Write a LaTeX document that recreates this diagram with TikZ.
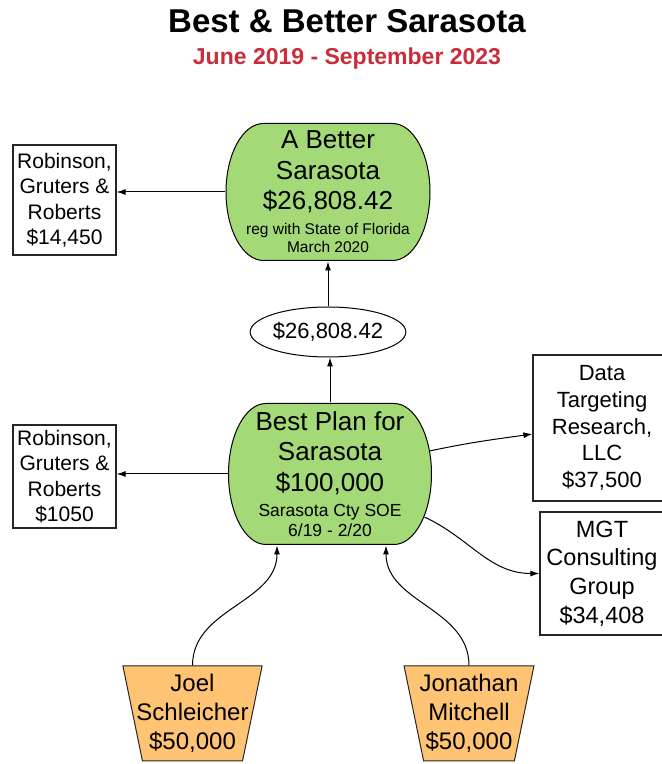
\documentclass[tikz,border=0pt]{standalone}
\usepackage{fontspec}
\setmainfont{Liberation Sans}
\usepackage{xcolor}
\usetikzlibrary{calc,shapes.geometric,arrows.meta}

\definecolor{fundgreen}{HTML}{A3D977}
\definecolor{donororange}{HTML}{FFC374}
\definecolor{titlered}{HTML}{C92D39}

\newcommand{\bigtxt}{\fontsize{26}{30.5}\selectfont}
\newcommand{\smalltxt}{\fontsize{15.5}{18}\selectfont}

\begin{document}
\begin{tikzpicture}[x=1pt, y=1pt,
        >={Latex[length=9pt,width=6pt]},
        fund/.style={rectangle, inner sep=0pt, align=center, font=\bigtxt,
            path picture={\draw[line width=1pt, fill=fundgreen]
                let \p1=(path picture bounding box.north west),
                    \p2=(path picture bounding box.south east),
                    \n1={(\y1-\y2)/2-0.5pt} in
                (\x1+38pt,\y1-0.5pt) -- (\x2-38pt,\y1-0.5pt)
                arc[start angle=90, end angle=-90, x radius=37.5pt, y radius=\n1]
                -- (\x1+38pt,\y2+0.5pt)
                arc[start angle=270, end angle=90, x radius=37.5pt, y radius=\n1] -- cycle;}},
        payee/.style={rectangle, draw=black!85, line width=1.2pt, align=center, inner sep=0pt,
            font=\fontsize{21}{25.5}\selectfont},
        vendor/.style={payee, font=\fontsize{22}{26.8}\selectfont},
        donor/.style={trapezium, trapezium angle=76, shape border rotate=180, trapezium stretches body,
            minimum height=95pt, inner xsep=-6pt, inner ysep=0pt, draw=black!85, line width=1pt,
            fill=donororange, align=center, font=\fontsize{24}{29}\selectfont},
        amount/.style={ellipse, draw, line width=1pt, inner sep=0pt, minimum width=130pt,
            minimum height=50pt, font=\fontsize{22}{26}\selectfont},
        line width=1pt
        ]
        \useasboundingbox (0,0) rectangle (662,764);

        \node (title) at (347,731) [anchor=base, font=\fontsize{33}{38}\selectfont\bfseries] {Best \& Better Sarasota};
        \node (dates) at (347,699) [anchor=base, text=titlered, font=\fontsize{23}{27}\selectfont\bfseries] {June 2019 - September 2023};

        % committees
        \node (abs) at (328,572) [fund, minimum width=205pt, minimum height=138pt]
            {A Better\\Sarasota\\\$26,808.42\\[-6pt]\smalltxt reg with State of Florida\\[-12pt]\smalltxt March 2020};
        \node (best) at (330,290) [fund, minimum width=204pt, minimum height=142pt]
            {Best Plan for\\Sarasota\\\$100,000\\[-5pt]\fontsize{17.5}{20}\selectfont Sarasota Cty SOE\\[-11pt]\fontsize{17.5}{20}\selectfont 6/19 - 2/20};
        \node (amt) at (328,432) [amount] {\$26,808.42};

        % payees
        \node (rgr1) at (64.5,564) [payee, minimum width=103pt, minimum height=110pt] {Robinson,\\Gruters \&\\Roberts\\\$14,450};
        \node (rgr2) at (64.5,287.5) [payee, minimum width=103pt, minimum height=103pt] {Robinson,\\Gruters \&\\Roberts\\\$1050};
        \node (data) at (602,336) [vendor, minimum width=138pt, minimum height=146pt] {Data\\Targeting\\Research,\\LLC\\\$37,500};
        \node (mgt) at (602,190.5) [vendor, minimum width=124pt, minimum height=123pt,
            font=\fontsize{23.5}{28.7}\selectfont] {MGT\\Consulting\\Group\\\$34,408};

        % donors
        \node (joel) at (192.5,50.5) [donor] {Joel\\Schleicher\\\$50,000};
        \node (jon) at (469,50.5) [donor, inner xsep=-4pt] {Jonathan\\Mitchell\\\$50,000};

        \draw[->] (abs.west) -- (abs.west -| rgr1.east);
        \draw[->] (best.west) -- (best.west -| rgr2.east);
        \draw[->] (best.north) -- (best.north |- amt.south);
        \draw[->] (amt.north) -- (abs.south);
        \draw[->] ([xshift=-3pt,yshift=23pt]best.east) to[out=12, in=188] ([yshift=-6pt]data.west);
        \draw[->] ([xshift=-8pt,yshift=-43pt]best.east) to[out=-25, in=180] (mgt.west);
        \draw[->] (joel.north) to[out=90, in=-90] ([xshift=-53pt]best.south);
        \draw[->] (jon.north) to[out=90, in=-90] ([xshift=56pt]best.south);

    \end{tikzpicture}
\end{document}
